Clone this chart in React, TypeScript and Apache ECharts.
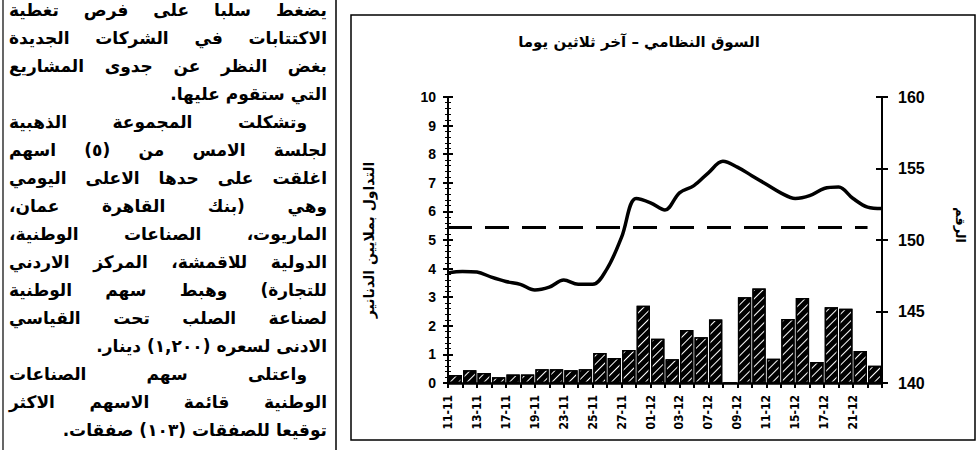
import React, { useEffect, useRef } from "react";
import * as echarts from "echarts";

// ---- data ----
const chartTitle = "السوق النظامي – آخر ثلاثين يوما";
const leftAxisName = "التداول بملايين الدنانير";
const rightAxisName = "الرقم";

// date tick labels (one every second trading slot)
const dateLabels = [
  "11-11", "13-11", "17-11", "19-11", "23-11", "25-11", "27-11", "01-12",
  "03-12", "07-12", "09-12", "11-12", "15-12", "17-12", "21-12",
];

// trading volume (million JD), 30 slots
const tradingVolume = [
  0.28, 0.45, 0.35, 0.2, 0.3, 0.3, 0.48, 0.48, 0.45, 0.48,
  1.05, 0.87, 1.15, 2.7, 1.55, 0.83, 1.85, 1.6, 2.22, 0,
  3.0, 3.3, 0.85, 2.24, 2.97, 0.73, 2.65, 2.6, 1.12, 0.6,
];

// index level at slot boundaries (31 points)
const indexLevel = [
  147.7, 147.8, 147.76, 147.4, 147.1, 146.9, 146.5, 146.7, 147.2, 146.9,
  146.9, 148.0, 150.2, 152.9, 152.6, 152.1, 153.3, 153.8, 154.7, 155.5,
  155.1, 154.5, 153.9, 153.3, 152.9, 153.1, 153.6, 153.7, 152.9, 152.3, 152.2,
];

const referenceLevel = 150.9;

const leftTicks = { min: 0, max: 10, interval: 1 };
const rightTicks = { min: 140, max: 160, interval: 5 };

// article text (left column)
const articleLines: { text: string; justify: boolean; indent?: boolean }[] = [
  { text: "يضغط سلبا على فرص تغطية", justify: true },
  { text: "الاكتتابات في الشركات الجديدة", justify: true },
  { text: "بغض النظر عن جدوى المشاريع", justify: true },
  { text: "التي ستقوم عليها.", justify: false },
  { text: "وتشكلت المجموعة الذهبية", justify: true, indent: true },
  { text: "لجلسة الامس من (٥) اسهم", justify: true },
  { text: "اغلقت على حدها الاعلى اليومي", justify: true },
  { text: "وهي (بنك القاهرة عمان،", justify: true },
  { text: "الماريوت، الصناعات الوطنية،", justify: true },
  { text: "الدولية للاقمشة، المركز الاردني", justify: true },
  { text: "للتجارة) وهبط سهم الوطنية", justify: true },
  { text: "لصناعة الصلب تحت القياسي", justify: true },
  { text: "الادنى لسعره (١,٢٠٠) دينار.", justify: false },
  { text: "واعتلى سهم الصناعات", justify: true, indent: true },
  { text: "الوطنية قائمة الاسهم الاكثر", justify: true },
  { text: "توقيعا للصفقات (١٠٣) صفقات.", justify: false },
];

const barCategories = tradingVolume.map((_, i) => String(i));
const boundaryCategories = indexLevel.map((_, i) =>
  i % 2 === 0 && i / 2 < dateLabels.length ? dateLabels[i / 2] : ""
);

const numFont = "'Liberation Sans', Arial, sans-serif";
const arFont = "'DejaVu Sans', sans-serif";

export default function App() {
  const ref = useRef<HTMLDivElement>(null);

  useEffect(() => {
    if (!ref.current) return;
    const chart = echarts.init(ref.current, undefined, { renderer: "svg" });

    const commonY = {
      type: "value" as const,
      splitLine: { show: false },
    };

    chart.setOption({
      animation: false,
      backgroundColor: "#fff",
      grid: { left: 448, right: 97, top: 97, bottom: 67, containLabel: false },
      xAxis: [
        {
          type: "category",
          data: barCategories,
          boundaryGap: true,
          show: false,
        },
        {
          type: "category",
          data: boundaryCategories,
          boundaryGap: false,
          position: "bottom",
          axisLine: { show: true, lineStyle: { color: "#000", width: 2.5 } },
          axisTick: {
            show: true,
            interval: 0,
            length: 5,
            lineStyle: { color: "#000", width: 2 },
          },
          axisLabel: {
            interval: 0,
            rotate: 90,
            margin: 12,
            color: "#000",
            fontFamily: "'Liberation Sans Narrow', 'DejaVu Sans Condensed', Arial, sans-serif",
            fontWeight: "bold",
            fontSize: 12,
          },
          splitLine: { show: false },
        },
      ],
      yAxis: [
        {
          ...commonY,
          ...leftTicks,
          position: "left",
          axisLine: { show: true, lineStyle: { color: "#000", width: 2 } },
          axisTick: { show: true, length: 5, lineStyle: { color: "#000", width: 2 } },
          minorTick: { show: true, splitNumber: 5, length: 3, lineStyle: { color: "#000", width: 1 } },
          axisLabel: {
            color: "#000",
            fontFamily: numFont,
            fontWeight: "bold",
            fontSize: 14,
            margin: 12,
          },
          name: leftAxisName,
          nameLocation: "middle",
          nameRotate: 90,
          nameGap: 72,
          nameTextStyle: {
            color: "#000",
            fontFamily: arFont,
            fontWeight: "bold",
            fontSize: 14,
          },
        },
        {
          ...commonY,
          ...rightTicks,
          position: "right",
          axisLine: { show: true, lineStyle: { color: "#000", width: 2 } },
          axisTick: { show: true, length: 6, lineStyle: { color: "#000", width: 2 } },
          axisLabel: {
            color: "#000",
            fontFamily: numFont,
            fontWeight: "bold",
            fontSize: 16,
            margin: 16,
          },
          name: rightAxisName,
          nameLocation: "middle",
          nameRotate: -90,
          nameGap: 72,
          nameTextStyle: {
            color: "#000",
            fontFamily: arFont,
            fontWeight: "bold",
            fontSize: 13,
            padding: [0, 30, 0, 0],
          },
        },
        {
          ...commonY,
          ...leftTicks,
          position: "left",
          axisLine: { show: false },
          axisTick: { show: true, inside: true, length: 5, lineStyle: { color: "#000", width: 2 } },
          minorTick: { show: true, splitNumber: 5, length: 3, lineStyle: { color: "#000", width: 1 } },
          axisLabel: { show: false },
        },
        {
          ...commonY,
          ...rightTicks,
          position: "right",
          axisLine: { show: false },
          axisTick: { show: true, inside: true, length: 6, lineStyle: { color: "#000", width: 2 } },
          axisLabel: { show: false },
        },
      ],
      graphic: [
        {
          type: "rect",
          shape: { x: 351, y: 15, width: 624, height: 425 },
          style: { fill: "none", stroke: "#000", lineWidth: 1.5 },
          silent: true,
        },
        {
          type: "line",
          shape: { x1: 336, y1: 0, x2: 336, y2: 450 },
          style: { stroke: "#000", lineWidth: 1.5 },
          silent: true,
        },
        {
          type: "line",
          shape: { x1: 3, y1: 0, x2: 3, y2: 450 },
          style: { stroke: "#000", lineWidth: 1.2 },
          silent: true,
        },
        {
          type: "text",
          x: 639,
          y: 42,
          style: {
            text: chartTitle,
            font: `bold 15px ${arFont}`,
            fill: "#000",
            textAlign: "center",
            textVerticalAlign: "middle",
          },
          silent: true,
        },
      ],
      series: [
        {
          type: "bar",
          xAxisIndex: 0,
          yAxisIndex: 0,
          data: tradingVolume,
          barCategoryGap: "8%",
          itemStyle: {
            color: "#000",
            borderColor: "#000",
            borderWidth: 1.5,
            decal: {
              symbol: "rect",
              symbolSize: 1,
              color: "#ffffff",
              backgroundColor: "#000000",
              dashArrayX: [1, 0],
              dashArrayY: [1, 5],
              rotation: -Math.PI / 4,
            },
          },
          z: 2,
        },
        {
          type: "line",
          xAxisIndex: 1,
          yAxisIndex: 1,
          data: indexLevel,
          smooth: 0.35,
          showSymbol: false,
          symbol: "none",
          lineStyle: { color: "#000", width: 3.5 },
          z: 3,
          markLine: {
            silent: true,
            symbol: ["none", "none"],
            label: { show: false },
            lineStyle: { color: "#000", width: 3, type: [24, 13] },
            data: [
              [
                { coord: [0, referenceLevel] },
                { coord: [29, referenceLevel] },
              ],
            ],
          },
        },
      ],
    });

    return () => chart.dispose();
  }, []);

  return (
    <div style={{ position: "fixed", left: 0, top: 0, width: 979, height: 450, background: "#fff", overflow: "hidden" }}>
      <div ref={ref} style={{ position: "absolute", left: 0, top: 0, width: 979, height: 450 }} />
      <div
        style={{
          position: "absolute",
          left: 9,
          top: -4,
          width: 318,
          direction: "rtl",
          fontFamily: arFont,
          fontWeight: "bold",
          fontSize: 17,
          lineHeight: "28px",
          color: "#000",
        }}
      >
        {articleLines.map((l, i) => (
          <div
            key={i}
            style={{
              textAlign: l.justify ? "justify" : "right",
              textAlignLast: l.justify ? "justify" : "right",
              paddingRight: l.indent ? 20 : 0,
              whiteSpace: "nowrap",
            }}
          >
            {l.text}
          </div>
        ))}
      </div>
    </div>
  );
}
